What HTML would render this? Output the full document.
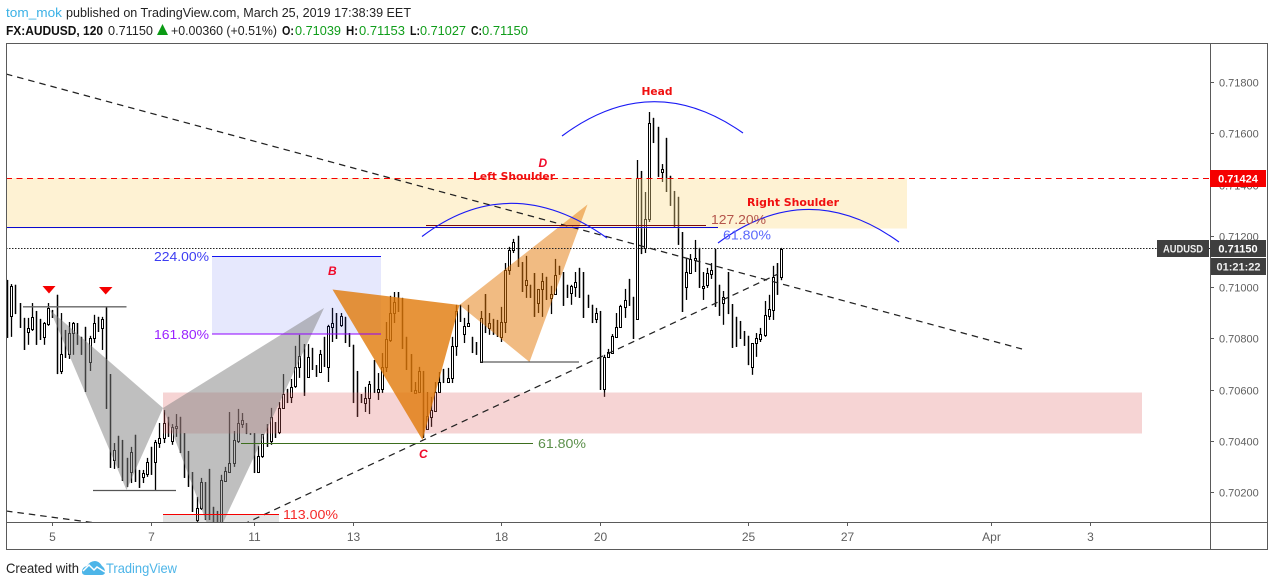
<!DOCTYPE html>
<html lang="en">
<head>
<meta charset="utf-8">
<title>FX:AUDUSD 120 chart</title>
<style>
html,body{margin:0;padding:0;background:#fff;width:1274px;height:586px;overflow:hidden}
svg{display:block;font-family:"Liberation Sans",Arial,sans-serif}
</style>
</head>
<body>
<svg id="chart" xmlns="http://www.w3.org/2000/svg" width="1274" height="586" viewBox="0 0 1274 586">
  <defs><clipPath id="pane"><rect x="7" y="44" width="1203" height="478"/></clipPath></defs>

  <g font-size="13">
    <text x="6" y="17" fill="#3bb1e6" textLength="56" lengthAdjust="spacingAndGlyphs">tom_mok</text>
    <text x="66" y="17" fill="#222" textLength="345" lengthAdjust="spacingAndGlyphs">published on TradingView.com, March 25, 2019 17:38:39 EET</text>
    <text x="6" y="35" fill="#111" font-weight="bold" textLength="97" lengthAdjust="spacingAndGlyphs">FX:AUDUSD, 120</text>
    <text x="108" y="35" fill="#222" textLength="45" lengthAdjust="spacingAndGlyphs">0.71150</text>
    <polygon points="157,35 168,35 162.500,24" fill="#0a9a14"/>
    <text x="171" y="35" fill="#222" textLength="106" lengthAdjust="spacingAndGlyphs">+0.00360 (+0.51%)</text>
    <text x="282" y="35" fill="#111" font-weight="bold" textLength="12" lengthAdjust="spacingAndGlyphs">O:</text>
    <text x="295" y="35" fill="#0f9d1a" textLength="46" lengthAdjust="spacingAndGlyphs">0.71039</text>
    <text x="346" y="35" fill="#111" font-weight="bold" textLength="12" lengthAdjust="spacingAndGlyphs">H:</text>
    <text x="359" y="35" fill="#0f9d1a" textLength="46" lengthAdjust="spacingAndGlyphs">0.71153</text>
    <text x="410" y="35" fill="#111" font-weight="bold" textLength="10" lengthAdjust="spacingAndGlyphs">L:</text>
    <text x="420" y="35" fill="#0f9d1a" textLength="46" lengthAdjust="spacingAndGlyphs">0.71027</text>
    <text x="471" y="35" fill="#111" font-weight="bold" textLength="11" lengthAdjust="spacingAndGlyphs">C:</text>
    <text x="482" y="35" fill="#0f9d1a" textLength="46" lengthAdjust="spacingAndGlyphs">0.71150</text>
  </g>

  <g id="candles" clip-path="url(#pane)"></g>

  <g clip-path="url(#pane)">
    <rect x="6" y="178" width="901" height="50.500" fill="rgba(252,220,140,0.38)"/>
    <rect x="163" y="392.500" width="979" height="41" fill="rgba(224,100,100,0.28)"/>
    <rect x="212" y="257" width="169" height="77" fill="rgba(80,90,240,0.14)"/>
    <rect x="163" y="514.500" width="116" height="8" fill="rgba(120,120,120,0.2)"/>

    <polygon points="50,310 126.500,490 163,408" fill="rgba(128,128,128,0.5)"/>
    <polygon points="163,408 214,542 324,308" fill="rgba(128,128,128,0.5)"/>
    <polygon points="332.500,289.500 459.500,305 422.500,440" fill="rgba(225,121,9,0.8)"/>
    <polygon points="459.500,305 529.500,362 587.500,204.500" fill="rgba(227,119,5,0.5)"/>

    <line x1="6" y1="74" x2="1022" y2="349" stroke="#222" stroke-width="1.250" stroke-dasharray="6.500 5"/>
    <line x1="243" y1="524.500" x2="778" y2="274" stroke="#222" stroke-width="1.250" stroke-dasharray="6.500 5"/>
    <line x1="6" y1="511" x2="92" y2="522.500" stroke="#222" stroke-width="1.250" stroke-dasharray="6.500 5"/>

    <line x1="6" y1="178.500" x2="1210" y2="178.500" stroke="#f50000" stroke-width="1" stroke-dasharray="6 4.500"/>
    <line x1="6" y1="248.500" x2="1210" y2="248.500" stroke="#222" stroke-width="1" stroke-dasharray="1.500 1.500"/>

    <line x1="212" y1="256.500" x2="381" y2="256.500" stroke="#1414f0" stroke-width="1"/>
    <line x1="212" y1="334" x2="381" y2="334" stroke="#8f00ff" stroke-width="1"/>
    <line x1="163" y1="514.500" x2="279" y2="514.500" stroke="#f50000" stroke-width="1"/>
    <line x1="23" y1="306.800" x2="126.500" y2="306.800" stroke="#666" stroke-width="1.300"/>
    <line x1="93" y1="490.500" x2="176" y2="490.500" stroke="#555" stroke-width="1.300"/>
    <line x1="241" y1="443.500" x2="533" y2="443.500" stroke="#3d6e1e" stroke-width="1"/>
    <line x1="480" y1="362" x2="579" y2="362" stroke="#333" stroke-width="1"/>
    <line x1="426" y1="225.500" x2="706" y2="225.500" stroke="#7a0a0a" stroke-width="1"/>
    <line x1="6" y1="227.500" x2="718" y2="227.500" stroke="#0a0ad0" stroke-width="1"/>

    <path d="M562 136 Q652 69 743 133" fill="none" stroke="#1a1af5" stroke-width="1.100"/>
    <path d="M422 236.500 Q510 169.500 607 238" fill="none" stroke="#1a1af5" stroke-width="1.100"/>
    <path d="M718 243 Q808 176.500 899 242" fill="none" stroke="#1a1af5" stroke-width="1.100"/>

    <polygon points="42.500,286 55.500,286 49,293.500" fill="#f50000"/>
    <polygon points="99,287 112.500,287 105.700,294.500" fill="#f50000"/>
  </g>

  <g font-size="13">
    <text x="154" y="261" fill="#3d3df2" textLength="55" lengthAdjust="spacingAndGlyphs">224.00%</text>
    <text x="154" y="339" fill="#9a22ff" textLength="55" lengthAdjust="spacingAndGlyphs">161.80%</text>
    <text x="283" y="519" fill="#f52a2a" textLength="55" lengthAdjust="spacingAndGlyphs">113.00%</text>
    <text x="538" y="448" fill="#5b8f4a" textLength="48" lengthAdjust="spacingAndGlyphs">61.80%</text>
    <text x="711" y="224" fill="#b4544a" textLength="55" lengthAdjust="spacingAndGlyphs">127.20%</text>
    <text x="723" y="239.500" fill="#5a68fb" textLength="48" lengthAdjust="spacingAndGlyphs">61.80%</text>
    <g fill="#f01010" font-weight="bold" font-size="11" font-family="'DejaVu Sans','Liberation Sans',sans-serif">
      <text x="641.500" y="95" textLength="31" lengthAdjust="spacingAndGlyphs">Head</text>
      <text x="473" y="180" textLength="82" lengthAdjust="spacingAndGlyphs">Left Shoulder</text>
      <text x="747" y="206" textLength="92" lengthAdjust="spacingAndGlyphs">Right Shoulder</text>
    </g>
    <g fill="#f00a2a" font-weight="bold" font-style="italic" font-size="12">
      <text x="328" y="275">B</text>
      <text x="419" y="458">C</text>
      <text x="538.500" y="167">D</text>
    </g>
  </g>

  <g fill="none" stroke="#5a5a5a" stroke-width="1">
    <line x1="6" y1="43.500" x2="1268" y2="43.500"/>
    <line x1="6.500" y1="43" x2="6.500" y2="549.500"/>
    <line x1="1267.500" y1="43" x2="1267.500" y2="549.500"/>
    <line x1="1210.500" y1="43" x2="1210.500" y2="549.500"/>
    <line x1="6" y1="522.500" x2="1268" y2="522.500"/>
    <line x1="6" y1="549.500" x2="1268" y2="549.500"/>
  </g>

  <g id="y-axis"></g>
  <g id="x-axis"></g>

  <g font-size="11" font-weight="bold" fill="#fff">
    <rect x="1210" y="170" width="56" height="17" fill="#f50000"/>
    <text x="1238" y="182.500" text-anchor="middle" fill="#fff">0.71424</text>
    <rect x="1157" y="240" width="52" height="17" fill="#3f3f3f"/>
    <text x="1183" y="252.500" text-anchor="middle" fill="#eee" textLength="40" lengthAdjust="spacingAndGlyphs">AUDUSD</text>
    <rect x="1210" y="240" width="56" height="17" fill="#3f3f3f"/>
    <text x="1238" y="252.500" text-anchor="middle" fill="#fff">0.71150</text>
    <rect x="1211" y="258" width="55" height="17" fill="#3f3f3f"/>
    <text x="1238.500" y="270.500" text-anchor="middle" fill="#eee">01:21:22</text>
  </g>

  <g>
    <text x="6" y="573" font-size="14" fill="#222" textLength="73" lengthAdjust="spacingAndGlyphs">Created with</text>
    <path d="M82 572 Q82 567 87 566 Q90 561 95 561 Q99 561 102 566 Q105 568 105 572 Q105 575 101 575 L86 575 Q82 575 82 572 Z" fill="#4db5e8"/>
    <path d="M83 571 L89 565 L94 570 L97 567 L105 572" fill="none" stroke="#fff" stroke-width="1.500"/>
    <text x="106" y="573" font-size="14" fill="#4db5e8" textLength="71" lengthAdjust="spacingAndGlyphs">TradingView</text>
  </g>
</svg>

<script>
// Prices in 1e-5 units (71150 = 0.71150), one entry per 2-hour bar.
const opens = [
71028,70888,71009,70938,70880,70825,70837,70907,70876,70806,
70856,70911,70970,70673,70833,70739,70821,70860,70806,70845,
70708,70802,70884,70841,70923,70661,70326,70420,70404,70334,
70279,70424,70287,70260,70271,70377,70318,70392,70412,70494,
70400,70451,70494,70431,70361,70279,70092,70139,70240,70291,
70143,70127,70080,70244,70279,70314,70400,70466,70470,70431,
70431,70279,70342,70466,70400,70474,70435,70529,70603,70572,
70615,70689,70778,70650,70763,70696,70669,70806,70689,70845,
70899,70853,70884,70821,70775,70673,70583,70548,70568,70716,
70591,70603,70689,70794,70899,70981,70958,70806,70739,70587,
70591,70673,70447,70494,70517,70591,70681,70630,70646,70771,
70931,70817,70849,70806,70786,70708,70973,70841,70876,70872,
70806,70864,71067,71145,71200,71098,71009,71009,71055,70938,
70993,71040,70958,70973,71083,71059,71009,70977,71001,71075,
71059,70970,70931,70876,70907,70603,70728,70743,70806,70845,
70923,71032,70962,70876,71453,71153,71266,71660,71625,71449,
71582,71434,71375,71352,71215,71001,71055,71106,71153,70997,
71009,71051,71149,71009,70938,71059,70934,70884,70868,70829,
70810,70689,70782,70798,70814,70888,70911,71094,71039];
const highs = [
71028,71012,71009,70938,70880,70880,70938,70907,70876,70864,
70938,70911,70970,70899,70833,70864,70864,70860,70806,70845,
70810,70892,70884,70884,70923,70661,70392,70420,70404,70334,
70377,70424,70287,70287,70334,70377,70404,70470,70521,70494,
70466,70505,70494,70431,70361,70279,70182,70256,70240,70291,
70143,70127,70268,70299,70513,70439,70525,70509,70470,70431,
70431,70381,70427,70466,70529,70474,70552,70661,70603,70642,
70771,70814,70778,70778,70763,70696,70755,70806,70853,70919,
70899,70899,70884,70821,70775,70673,70583,70611,70634,70716,
70665,70743,70864,70966,70981,70981,70958,70806,70739,70630,
70689,70673,70591,70572,70630,70669,70681,70685,70806,70931,
70931,70880,70931,70806,70786,70907,70973,70899,70876,70872,
70923,71094,71157,71188,71200,71098,71122,71009,71055,70993,
71055,71040,71005,71110,71083,71059,71009,71009,71059,71075,
71059,70970,70931,70919,70907,70736,70759,70817,70899,70931,
70993,71032,70962,71496,71453,71371,71683,71660,71625,71480,
71582,71434,71375,71352,71215,71114,71129,71184,71153,71059,
71075,71094,71149,71009,70985,71059,70934,70884,70868,70829,
70810,70782,70821,70841,70946,70970,71083,71094,71153];
const lows = [
70802,70806,70895,70841,70755,70775,70829,70775,70794,70775,
70849,70880,70661,70661,70724,70720,70736,70775,70736,70591,
70673,70782,70825,70755,70525,70295,70291,70295,70244,70221,
70236,70240,70217,70236,70260,70268,70209,70373,70392,70416,
70385,70416,70353,70256,70221,70123,70073,70131,70092,70092,
70084,70080,70073,70240,70275,70299,70392,70451,70427,70424,
70275,70275,70334,70377,70385,70412,70427,70529,70548,70548,
70607,70646,70576,70650,70677,70650,70669,70689,70630,70786,
70798,70845,70782,70767,70548,70494,70548,70513,70505,70587,
70560,70587,70669,70786,70860,70903,70759,70677,70591,70587,
70587,70412,70443,70455,70513,70591,70626,70626,70626,70732,
70864,70782,70849,70743,70736,70708,70821,70814,70814,70806,
70786,70821,71048,71133,71079,70981,70958,70958,70884,70899,
70884,70950,70895,70970,71048,70927,70958,70931,70962,70958,
70880,70919,70860,70860,70599,70572,70724,70743,70806,70845,
70880,70927,70798,70876,71129,71133,71254,71562,71430,71410,
71371,71317,71235,71165,70903,70950,71055,71059,70997,70950,
70997,71032,70923,70888,70853,70895,70763,70767,70798,70771,
70696,70658,70728,70786,70806,70872,70872,70970,71027];
const closes = [
70802,71005,70895,70841,70755,70841,70884,70775,70794,70860,
70919,70880,70661,70739,70724,70821,70860,70775,70736,70591,
70802,70860,70825,70876,70525,70295,70365,70295,70244,70221,
70357,70240,70217,70275,70318,70268,70396,70412,70470,70416,
70455,70459,70353,70256,70221,70123,70139,70240,70092,70092,
70084,70080,70248,70283,70314,70404,70470,70482,70427,70424,
70275,70342,70427,70377,70494,70412,70529,70583,70548,70611,
70689,70732,70576,70728,70677,70650,70739,70689,70849,70860,
70798,70888,70782,70767,70548,70494,70548,70568,70622,70587,
70603,70689,70798,70899,70942,70903,70759,70677,70591,70599,
70673,70412,70498,70521,70591,70630,70626,70646,70771,70907,
70864,70849,70860,70743,70736,70880,70821,70860,70814,70806,
70864,71067,71145,71176,71079,70981,71028,70958,70884,70993,
71024,70950,70973,71048,71048,70927,70958,71005,71020,70958,
70880,70919,70860,70899,70599,70728,70747,70810,70845,70927,
70950,70927,70798,71426,71129,71266,71640,71562,71430,71461,
71371,71317,71235,71165,70903,71059,71110,71114,70997,71005,
71055,71067,70923,70888,70962,70895,70763,70767,70798,70771,
70696,70782,70802,70817,70892,70915,71040,70970,71150];

const priceTicks = [71800,71600,71400,71200,71000,70800,70600,70400,70200];
const priceTickLabels = ["0.71800","0.71600","0.71400","0.71200","0.71000","0.70800","0.70600","0.70400","0.70200"];
const timeTickBars = [11,35,60,84,120,144,180,204,239,263];
const timeTickLabels = ["5","7","11","13","18","20","25","27","Apr","3"];

const NS = "http://www.w3.org/2000/svg";
function xScale(bar){ return 7.2 + 4.116 * bar; }
function yScale(v){ return 82 + (71800 - v) / 3.9; }
function make(tag, attrs, parent){
  const el = document.createElementNS(NS, tag);
  for (const k in attrs) el.setAttribute(k, attrs[k]);
  parent.appendChild(el);
  return el;
}

const candleLayer = document.getElementById("candles");
opens.forEach(function(o, i){
  const c = closes[i];
  const px = Math.round(xScale(i));
  const cx = px + 0.5;
  const g = make("g", {}, candleLayer);
  
  
  const wick = make("line", {x1:cx, x2:cx, y1:yScale(highs[i]), y2:yScale(lows[i]), stroke:"#000", "stroke-width":1.3}, g);
  
  
  const top = yScale(Math.max(o, c));
  const bottom = yScale(Math.min(o, c));
  if (c >= o) {
    const body = make("rect", {x:px - 0.5, y:Math.round(top) + 0.5, width:2, height:Math.max(1, Math.round(bottom - top)), fill:"#fff", stroke:"#000", "stroke-width":1}, g);
    
    
  } else {
    const body = make("line", {x1:cx, x2:cx, y1:top, y2:bottom, stroke:"#000", "stroke-width":1.3}, g);
    
    
  }
});

const yAxis = document.getElementById("y-axis");
priceTicks.forEach(function(v, i){
  const y = Math.round(yScale(v)) + 0.5;
  const t = make("line", {x1:1210, x2:1214, y1:y, y2:y, stroke:"#5a5a5a", "stroke-width":1}, yAxis);
  
  
  const lab = make("text", {x:1219, y:y + 4, "font-size":11, fill:"#5f5f5f"}, yAxis);
  
  
  lab.textContent = priceTickLabels[i];
});

const xAxis = document.getElementById("x-axis");
timeTickBars.forEach(function(b, i){
  const x = Math.round(xScale(b)) + 0.5;
  const t = make("line", {x1:x, x2:x, y1:522, y2:526, stroke:"#5a5a5a", "stroke-width":1}, xAxis);
  
  
  const lab = make("text", {x:x, y:541, "font-size":12, fill:"#5f5f5f", "text-anchor":"middle"}, xAxis);
  
  
  lab.textContent = timeTickLabels[i];
});
</script>
</body>
</html>
